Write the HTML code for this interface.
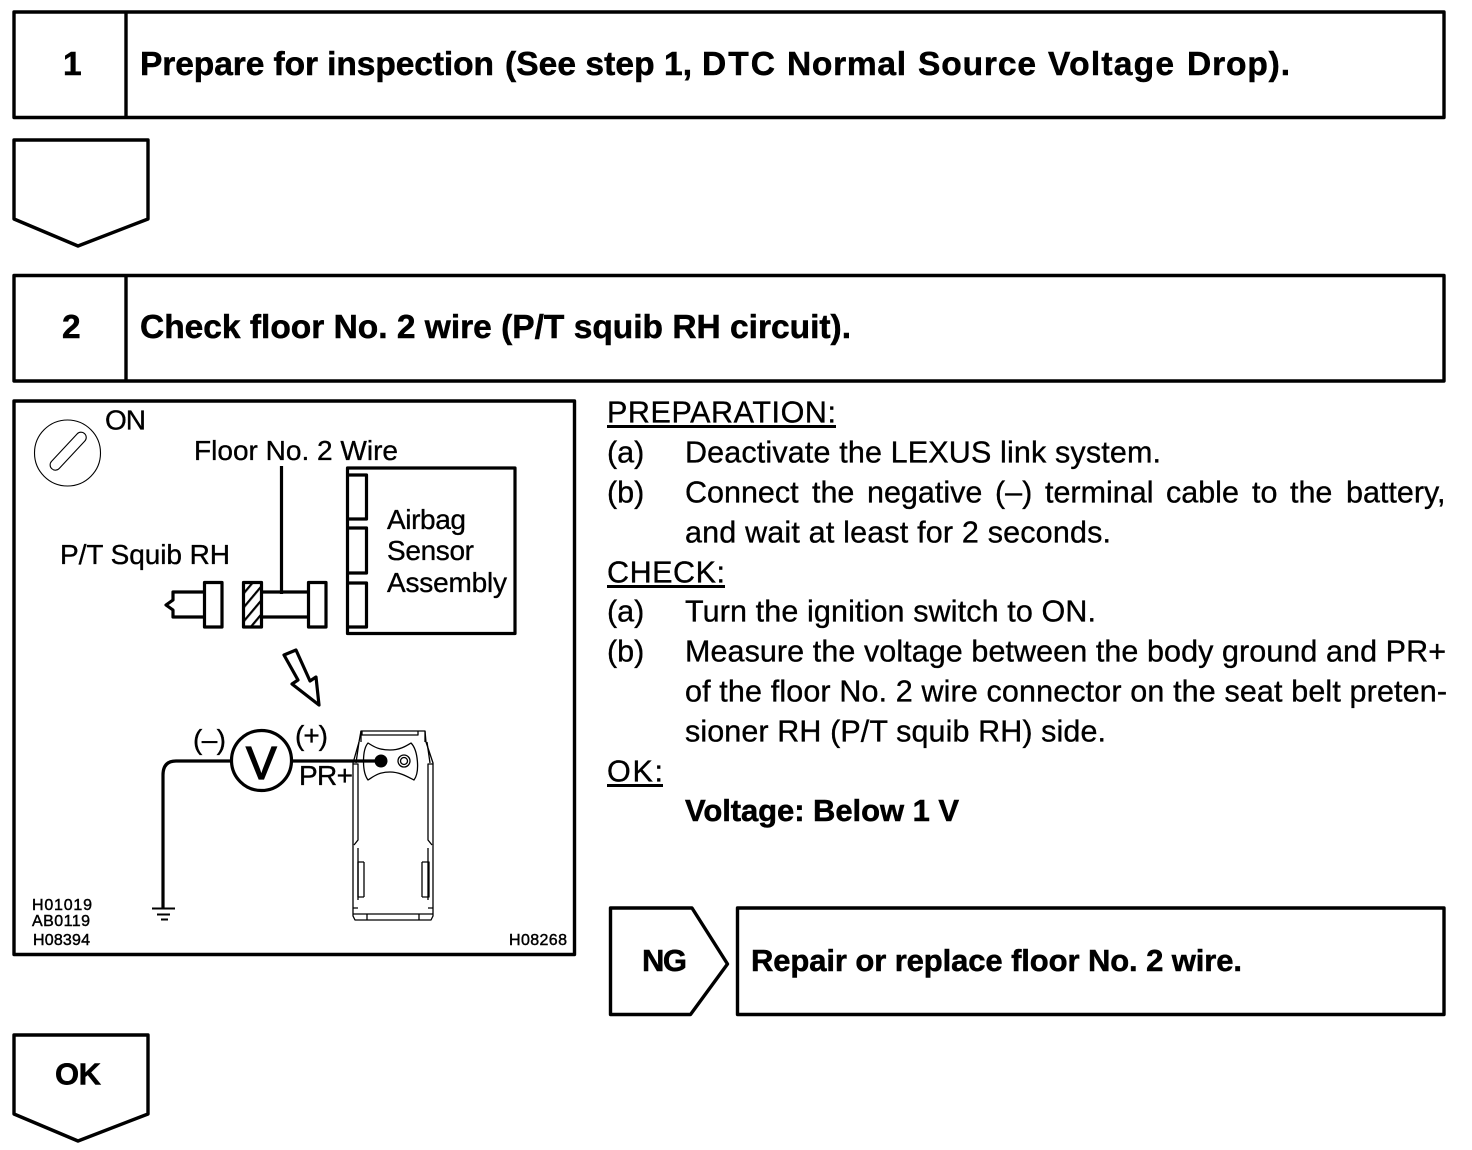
<!DOCTYPE html>
<html><head><meta charset="utf-8"><style>
html,body{margin:0;padding:0;background:#fff}
svg{display:block}
text{font-family:"Liberation Sans",sans-serif;fill:#000;stroke:#000;stroke-width:.35px}
.b{font-weight:bold}
.h{font-size:33.5px;font-weight:bold;stroke-width:.5px}
.t{font-size:30.5px}
.tb{font-size:31px;font-weight:bold;stroke-width:.5px}
.d{font-size:28px}
.s{font-size:16px;stroke-width:.45px}
</style></head><body>
<svg width="1472" height="1150" viewBox="0 0 1472 1150" xmlns="http://www.w3.org/2000/svg">
<g fill="none" stroke="#000" stroke-width="3.4" stroke-linejoin="round">
<rect x="14" y="12" width="1430" height="105.5"/>
<path d="M126 12V117.5"/>
<path d="M14 140H148V219L78 246L14 219Z"/>
<rect x="14" y="275.5" width="1430" height="105.5"/>
<path d="M126 275.5V381"/>
<rect x="14" y="401" width="560.5" height="553.5"/>
<path d="M610.5 908H692L727.5 964L690.5 1014.500H610.5Z"/>
<rect x="737.500" y="908" width="706.500" height="106.500"/>
<path d="M14 1035H148V1114L78 1141L14 1114Z"/>
</g>
<text class="h" x="63" y="75">1</text>
<text class="h" x="140" y="75" textLength="354" lengthAdjust="spacing">Prepare for inspection</text>
<text class="h" x="505" y="75" textLength="187" lengthAdjust="spacing">(See step 1,</text>
<text class="h" x="702" y="75" textLength="73" lengthAdjust="spacing">DTC</text>
<text class="h" x="787" y="75" textLength="119" lengthAdjust="spacing">Normal</text>
<text class="h" x="918" y="75" textLength="118" lengthAdjust="spacing">Source</text>
<text class="h" x="1048" y="75" textLength="126" lengthAdjust="spacing">Voltage</text>
<text class="h" x="1187" y="75" textLength="103" lengthAdjust="spacing">Drop).</text>
<text class="h" x="62" y="338">2</text>
<text class="h" x="140" y="338" textLength="711" lengthAdjust="spacing">Check floor No. 2 wire (P/T squib RH circuit).</text>
<text class="t" x="607" y="422.500" textLength="229" lengthAdjust="spacing">PREPARATION:</text>
<path d="M607 426.500H836" stroke="#000" stroke-width="3"/>
<text class="t" x="607" y="462.500">(a)</text>
<text class="t" x="685" y="462.500" textLength="476" lengthAdjust="spacing">Deactivate the LEXUS link system.</text>
<text class="t" x="607" y="502.500">(b)</text>
<text class="t" y="502.500"><tspan x="685">Connect</tspan><tspan x="812">the</tspan><tspan x="867">negative</tspan><tspan x="995">(–)</tspan><tspan x="1045">terminal</tspan><tspan x="1166">cable</tspan><tspan x="1252">to</tspan><tspan x="1290">the</tspan><tspan x="1346">battery,</tspan></text>
<text class="t" x="685" y="542.500" textLength="426" lengthAdjust="spacing">and wait at least for 2 seconds.</text>
<text class="t" x="607" y="582.500" textLength="118" lengthAdjust="spacing">CHECK:</text>
<path d="M607 586.500H725" stroke="#000" stroke-width="3"/>
<text class="t" x="607" y="621.500">(a)</text>
<text class="t" x="685" y="621.500" textLength="411" lengthAdjust="spacing">Turn the ignition switch to ON.</text>
<text class="t" x="607" y="661.500">(b)</text>
<text class="t" x="685" y="661.500" textLength="761" lengthAdjust="spacing">Measure the voltage between the body ground and PR+</text>
<text class="t" x="685" y="701.500" textLength="762" lengthAdjust="spacing">of the floor No. 2 wire connector on the seat belt preten-</text>
<text class="t" x="685" y="741.500" textLength="421" lengthAdjust="spacing">sioner RH (P/T squib RH) side.</text>
<text class="t" x="607" y="781.500" textLength="56" lengthAdjust="spacing">OK:</text>
<path d="M607 785.500H663" stroke="#000" stroke-width="3"/>
<text class="tb" x="685" y="821" textLength="274" lengthAdjust="spacing">Voltage: Below 1 V</text>
<text class="tb" x="642" y="971" textLength="45" lengthAdjust="spacing">NG</text>
<text class="tb" x="751" y="971" textLength="491" lengthAdjust="spacing">Repair or replace floor No. 2 wire.</text>
<text class="tb" x="55" y="1084.500" textLength="46" lengthAdjust="spacing">OK</text>
<text class="d" x="105" y="429.500" textLength="41" lengthAdjust="spacing">ON</text>
<text class="d" x="194" y="460" textLength="204" lengthAdjust="spacing">Floor No. 2 Wire</text>
<text class="d" x="60" y="564" textLength="170" lengthAdjust="spacing">P/T Squib RH</text>
<text class="d" x="387" y="529" textLength="79" lengthAdjust="spacing">Airbag</text>
<text class="d" x="387" y="560" textLength="87" lengthAdjust="spacing">Sensor</text>
<text class="d" x="387" y="592" textLength="120" lengthAdjust="spacing">Assembly</text>
<text class="d" x="193" y="749" textLength="33" lengthAdjust="spacing">(–)</text>
<text class="d" x="295" y="745" textLength="33" lengthAdjust="spacing">(+)</text>
<text class="d" x="299" y="785" textLength="54" lengthAdjust="spacing">PR+</text>
<text x="246" y="779" style="font-size:46px;stroke-width:1.3px" textLength="31" lengthAdjust="spacing">V</text>
<text class="s" x="32" y="910" textLength="60" lengthAdjust="spacing">H01019</text>
<text class="s" x="32" y="926" textLength="58" lengthAdjust="spacing">AB0119</text>
<text class="s" x="33" y="945" textLength="57" lengthAdjust="spacing">H08394</text>
<text class="s" x="509" y="945" textLength="58" lengthAdjust="spacing">H08268</text>
<defs><pattern id="hat" width="9" height="9" patternUnits="userSpaceOnUse" patternTransform="rotate(40)"><rect width="2.200" height="9" fill="#000"/></pattern></defs>
<g fill="none" stroke="#000" stroke-width="1.100">
<circle cx="67.500" cy="453" r="33"/>
<rect x="44" y="446" width="48" height="10.500" rx="5.200" transform="rotate(-47 68 451)"/>
</g>
<rect x="244" y="583" width="17" height="43" fill="url(#hat)"/>
<g fill="none" stroke="#000" stroke-width="3.200" stroke-linejoin="round">
<path d="M281.500 466V594"/>
<rect x="204.500" y="582.500" width="17.500" height="44.500"/>
<path d="M204 592H173V600L166 605L173 610V617H204"/>
<rect x="243.500" y="582.500" width="18" height="44.500"/>
<path d="M262 592H308M262 617H308"/>
<rect x="308.500" y="582.500" width="17.500" height="44.500"/>
<rect x="347.500" y="468" width="167.500" height="165.500"/>
<path d="M348 475H366.500V519H348M348 528H366.500V573H348M348 583H366.500V627H348"/>
<path d="M284 655L296 650L310 681L316 677L319 705L292 684L298 680Z"/>
<circle cx="261.500" cy="760.500" r="30"/>
<path d="M231 761H176Q163 761 163 775V908"/>
<path d="M292 761H380"/>
</g>
<g stroke="#000" stroke-width="2">
<path d="M152 908.500H175M157 914.500H170M161 919.500H168"/>
</g>
<circle cx="381" cy="761" r="6.500" fill="#000"/>
<g fill="none" stroke="#000" stroke-width="1.300" stroke-linejoin="round">
<path d="M361 731H425L426 742L433 763V916L431 920H355L353 916V763L359 742Z"/>
<path d="M361 731V742M425 731V742M362 731V735H418V731"/>
<path d="M359 742L356 763M427 742L430 763"/>
<path d="M353 764H358V840L354 845M433 764H428V840L432 845"/>
<path d="M358 850V848M428 850V848M358 850V900M428 850V900"/>
<path d="M368 743C373 746 378 750 390 750C400 750 406 746 411 743C418 750 420 772 414 780C408 777 400 772 390 772C378 772 373 777 368 780C362 772 362 750 368 743Z"/>
<circle cx="404" cy="761" r="6"/>
<circle cx="404" cy="761" r="3.500"/>
<path d="M364 862H358V897H364M364 862V897M422 862H429V897H422M422 862V897"/>
<path d="M353 908H358M433 908H428M353 914H433M367 914V920M419 914V920"/>
</g>
</svg>
</body></html>
